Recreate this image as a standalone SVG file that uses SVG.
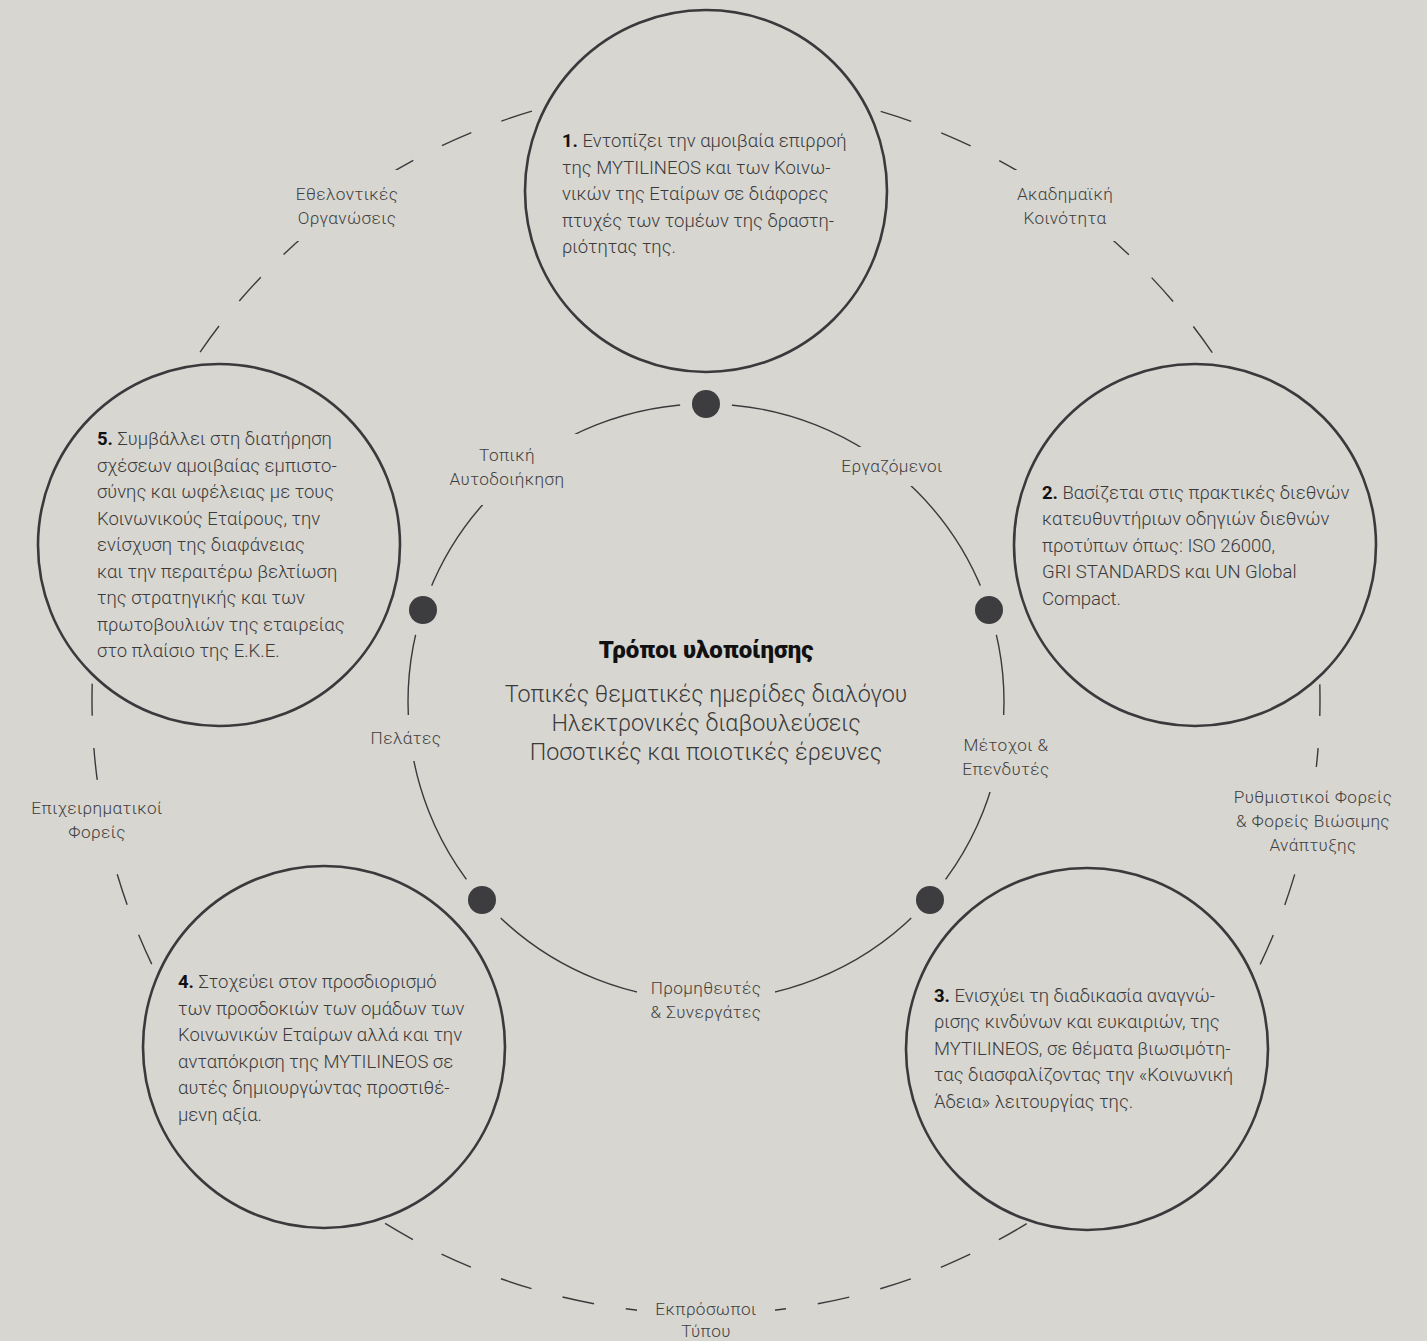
<svg xmlns="http://www.w3.org/2000/svg" width="1427" height="1341" viewBox="0 0 1427 1341">
<style>
.bg{fill:#d7d6d1}
.node{fill:#d7d6d1;stroke:#3a3a3c;stroke-width:2.6}
.ring-outer{fill:none;stroke:#3a3a3c;stroke-width:1.4;stroke-dasharray:32.149 32.149;stroke-dashoffset:16.07}
.ring-inner{fill:none;stroke:#3a3a3c;stroke-width:1.4}
.dot{fill:#3d3d40}
.body{font-family:Roboto,"Noto Sans",sans-serif;font-weight:300;font-size:18.5px;fill:#3a3a3a}
.num{font-weight:700;fill:#111}
.lbl{font-family:Roboto,"Noto Sans",sans-serif;font-weight:300;font-size:17.2px;letter-spacing:0.4px;fill:#3f3f3f;text-anchor:middle}
.title{font-family:Roboto,"Noto Sans",sans-serif;font-weight:900;font-size:24px;fill:#111;text-anchor:middle}
.sub{font-family:Roboto,"Noto Sans",sans-serif;font-weight:300;font-size:23.3px;fill:#3a3a3a;text-anchor:middle}
</style>
<defs>
<mask id="mOuter" maskUnits="userSpaceOnUse" x="0" y="0" width="1427" height="1341">
<rect x="0" y="0" width="1427" height="1341" fill="#fff"/>
<rect x="288" y="170" width="122" height="71" fill="#000"/>
<rect x="1002" y="170" width="122" height="71" fill="#000"/>
<rect x="25" y="784" width="145" height="88" fill="#000"/>
<rect x="1222" y="767" width="190" height="105" fill="#000"/>
<rect x="637" y="1288" width="138" height="53" fill="#000"/>
</mask>
<mask id="mInner" maskUnits="userSpaceOnUse" x="0" y="0" width="1427" height="1341">
<rect x="0" y="0" width="1427" height="1341" fill="#fff"/>
<circle cx="706" cy="404" r="26" fill="#000"/>
<circle cx="989" cy="610" r="26" fill="#000"/>
<circle cx="930" cy="900" r="26" fill="#000"/>
<circle cx="482" cy="900" r="26" fill="#000"/>
<circle cx="423" cy="610" r="26" fill="#000"/>
<rect x="835" y="447" width="115" height="39" fill="#000"/>
<rect x="955" y="715" width="105" height="77" fill="#000"/>
<rect x="637" y="975" width="138" height="50" fill="#000"/>
<rect x="360" y="715" width="90" height="46" fill="#000"/>
<rect x="440" y="434" width="137" height="71" fill="#000"/>
</mask>
</defs>
<rect class="bg" x="0" y="0" width="1427" height="1341"/>

<g id="connectors">
<circle class="ring-outer" cx="706" cy="700" r="614" mask="url(#mOuter)"/>
<circle class="ring-inner" cx="706" cy="702" r="298" mask="url(#mInner)"/>
</g>

<g id="node1">
<circle class="node" cx="706" cy="191" r="181"/>
<text class="body" x="562" y="147"><tspan class="num">1.</tspan> Εντοπίζει την αμοιβαία επιρροή</text>
<text class="body" x="562" y="173.5">της MYTILINEOS και των Κοινω-</text>
<text class="body" x="562" y="200">νικών της Εταίρων σε διάφορες</text>
<text class="body" x="562" y="226.5">πτυχές των τομέων της δραστη-</text>
<text class="body" x="562" y="253">ριότητας της.</text>
</g>

<g id="node2">
<circle class="node" cx="1195" cy="545" r="181"/>
<text class="body" x="1042" y="498.5"><tspan class="num">2.</tspan> Βασίζεται στις πρακτικές διεθνών</text>
<text class="body" x="1042" y="525">κατευθυντήριων οδηγιών διεθνών</text>
<text class="body" x="1042" y="551.5">προτύπων όπως: ISO 26000,</text>
<text class="body" x="1042" y="578">GRI STANDARDS και UN Global</text>
<text class="body" x="1042" y="604.5">Compact.</text>
</g>

<g id="node3">
<circle class="node" cx="1087" cy="1049" r="181"/>
<text class="body" x="934" y="1001.5"><tspan class="num">3.</tspan> Ενισχύει τη διαδικασία αναγνώ-</text>
<text class="body" x="934" y="1028">ρισης κινδύνων και ευκαιριών, της</text>
<text class="body" x="934" y="1054.5">MYTILINEOS, σε θέματα βιωσιμότη-</text>
<text class="body" x="934" y="1081">τας διασφαλίζοντας την «Κοινωνική</text>
<text class="body" x="934" y="1107.5">Άδεια» λειτουργίας της.</text>
</g>

<g id="node4">
<circle class="node" cx="324" cy="1047" r="181"/>
<text class="body" x="178" y="988"><tspan class="num">4.</tspan> Στοχεύει στον προσδιορισμό</text>
<text class="body" x="178" y="1014.5">των προσδοκιών των ομάδων των</text>
<text class="body" x="178" y="1041">Κοινωνικών Εταίρων αλλά και την</text>
<text class="body" x="178" y="1067.5">ανταπόκριση της MYTILINEOS σε</text>
<text class="body" x="178" y="1094">αυτές δημιουργώντας προστιθέ-</text>
<text class="body" x="178" y="1120.5">μενη αξία.</text>
</g>

<g id="node5">
<circle class="node" cx="219" cy="545" r="181"/>
<text class="body" x="97" y="445"><tspan class="num">5.</tspan> Συμβάλλει στη διατήρηση</text>
<text class="body" x="97" y="471.5">σχέσεων αμοιβαίας εμπιστο-</text>
<text class="body" x="97" y="498">σύνης και ωφέλειας με τους</text>
<text class="body" x="97" y="524.5">Κοινωνικούς Εταίρους, την</text>
<text class="body" x="97" y="551">ενίσχυση της διαφάνειας</text>
<text class="body" x="97" y="577.5">και την περαιτέρω βελτίωση</text>
<text class="body" x="97" y="604">της στρατηγικής και των</text>
<text class="body" x="97" y="630.5">πρωτοβουλιών της εταιρείας</text>
<text class="body" x="97" y="657">στο πλαίσιο της Ε.Κ.Ε.</text>
</g>

<g id="dots">
<circle class="dot" cx="706" cy="404" r="14"/>
<circle class="dot" cx="989" cy="610" r="14"/>
<circle class="dot" cx="930" cy="900" r="14"/>
<circle class="dot" cx="482" cy="900" r="14"/>
<circle class="dot" cx="423" cy="610" r="14"/>
</g>

<g id="center">
<text class="title" x="706" y="658">Τρόποι υλοποίησης</text>
<text class="sub" x="706" y="702">Τοπικές θεματικές ημερίδες διαλόγου</text>
<text class="sub" x="706" y="731">Ηλεκτρονικές διαβουλεύσεις</text>
<text class="sub" x="706" y="760">Ποσοτικές και ποιοτικές έρευνες</text>
</g>

<g id="inner-labels">
<g id="lbl-topiki"><text class="lbl" x="507" y="461">Τοπική</text><text class="lbl" x="507" y="485">Αυτοδοιήκηση</text></g>
<g id="lbl-ergazomenoi"><text class="lbl" x="892" y="472">Εργαζόμενοι</text></g>
<g id="lbl-metoxoi"><text class="lbl" x="1006" y="751">Μέτοχοι &amp;</text><text class="lbl" x="1006" y="775">Επενδυτές</text></g>
<g id="lbl-promitheutes"><text class="lbl" x="706" y="994">Προμηθευτές</text><text class="lbl" x="706" y="1018">&amp; Συνεργάτες</text></g>
<g id="lbl-pelates"><text class="lbl" x="406" y="744">Πελάτες</text></g>
</g>

<g id="outer-labels">
<g id="lbl-ethelontikes"><text class="lbl" x="347" y="200">Εθελοντικές</text><text class="lbl" x="347" y="224">Οργανώσεις</text></g>
<g id="lbl-akadimaiki"><text class="lbl" x="1065" y="200">Ακαδημαϊκή</text><text class="lbl" x="1065" y="224">Κοινότητα</text></g>
<g id="lbl-rythmistikoi"><text class="lbl" x="1313" y="803">Ρυθμιστικοί Φορείς</text><text class="lbl" x="1313" y="827">&amp; Φορείς Βιώσιμης</text><text class="lbl" x="1313" y="851">Ανάπτυξης</text></g>
<g id="lbl-epixeirimatikoi"><text class="lbl" x="97" y="814">Επιχειρηματικοί</text><text class="lbl" x="97" y="838">Φορείς</text></g>
<g id="lbl-ekprosopoi"><text class="lbl" x="706" y="1315">Εκπρόσωποι</text><text class="lbl" x="706" y="1337">Τύπου</text></g>
</g>
</svg>
